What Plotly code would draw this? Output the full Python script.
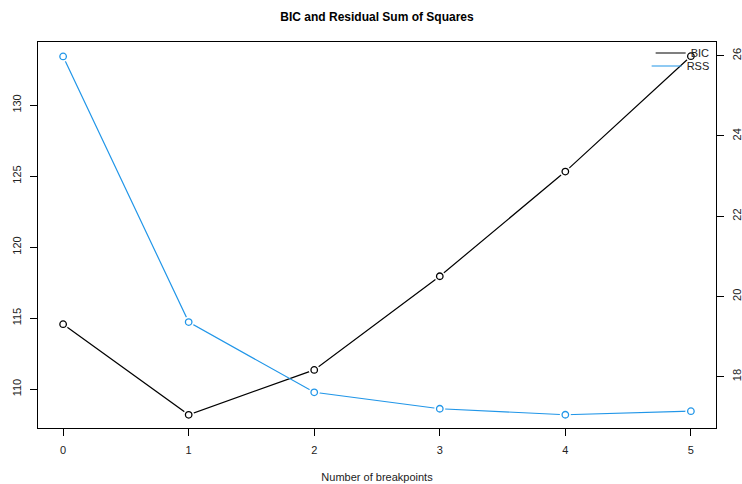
import plotly.graph_objects as go

breakpoints = [0, 1, 2, 3, 4, 5]
bic = [114.58, 108.2, 111.36, 117.95, 125.32, 133.44]
rss = [25.98, 19.36, 17.61, 17.20, 17.05, 17.14]
left_ticks = [110, 115, 120, 125, 130]
right_ticks = [18, 20, 22, 24, 26]

BLUE = "#2196E8"
FONT = "Liberation Sans, Arial, sans-serif"

fig = go.Figure()

def add_series(x, y, color, name, yaxis, legend):
    fig.add_trace(go.Scatter(x=x, y=y, mode="lines", name=name, yaxis=yaxis,
                             line=dict(color=color, width=1.2), showlegend=True,
                             legend=legend))
    fig.add_trace(go.Scatter(x=x, y=y, mode="markers", yaxis=yaxis, showlegend=False,
                             hoverinfo="skip",
                             marker=dict(symbol="circle", size=11, color="white",
                                         line=dict(width=0))))
    fig.add_trace(go.Scatter(x=x, y=y, mode="markers", yaxis=yaxis, showlegend=False,
                             marker=dict(symbol="circle-open", size=6.5, color=color,
                                         line=dict(width=1.3, color=color))))

add_series(breakpoints, bic, "black", "BIC", "y", "legend")
add_series(breakpoints, rss, BLUE, "RSS", "y2", "legend2")

leg_common = dict(x=0.998, xanchor="right", yanchor="middle", bgcolor="rgba(0,0,0,0)",
                  font=dict(size=11, color="#222"), itemwidth=30)

fig.update_layout(
    width=742, height=484,
    margin=dict(l=38, r=26, t=42, b=56, autoexpand=False),
    paper_bgcolor="white", plot_bgcolor="white",
    font=dict(family=FONT, size=11, color="#222"),
    title=dict(text="<b>BIC and Residual Sum of Squares</b>", x=(38 + 716) / 2 / 742,
               xanchor="center", y=1 - 17 / 484, yanchor="middle",
               font=dict(size=12, color="black", family=FONT), automargin=False),
    showlegend=True,
    legend=dict(y=1 - (53 - 42) / 386, **leg_common),
    legend2=dict(y=1 - (66 - 42) / 386, **leg_common),
    xaxis=dict(range=[-0.2, 5.2], tickvals=breakpoints, ticks="outside", ticklen=7,
               tickcolor="black", showline=True, linecolor="black", linewidth=1,
               mirror=True, showgrid=False, zeroline=False, automargin=False,
               ticklabelstandoff=5,
               title=dict(text="Number of breakpoints", standoff=18,
                          font=dict(size=11))),
    yaxis=dict(range=[107.27, 134.44], tickvals=left_ticks, ticks="outside", ticklen=7,
               tickcolor="black", tickangle=-90, showline=True, linecolor="black",
               linewidth=1, mirror=True, showgrid=False, zeroline=False,
               automargin=False, ticklabelstandoff=5),
    yaxis2=dict(range=[16.72, 26.34], tickvals=right_ticks, ticks="outside", ticklen=7,
                tickcolor="black", tickangle=-90, overlaying="y", side="right",
                showline=True, linecolor="black", linewidth=1, showgrid=False,
                zeroline=False, automargin=False, ticklabelstandoff=4),
)

fig.write_html("out.html")
